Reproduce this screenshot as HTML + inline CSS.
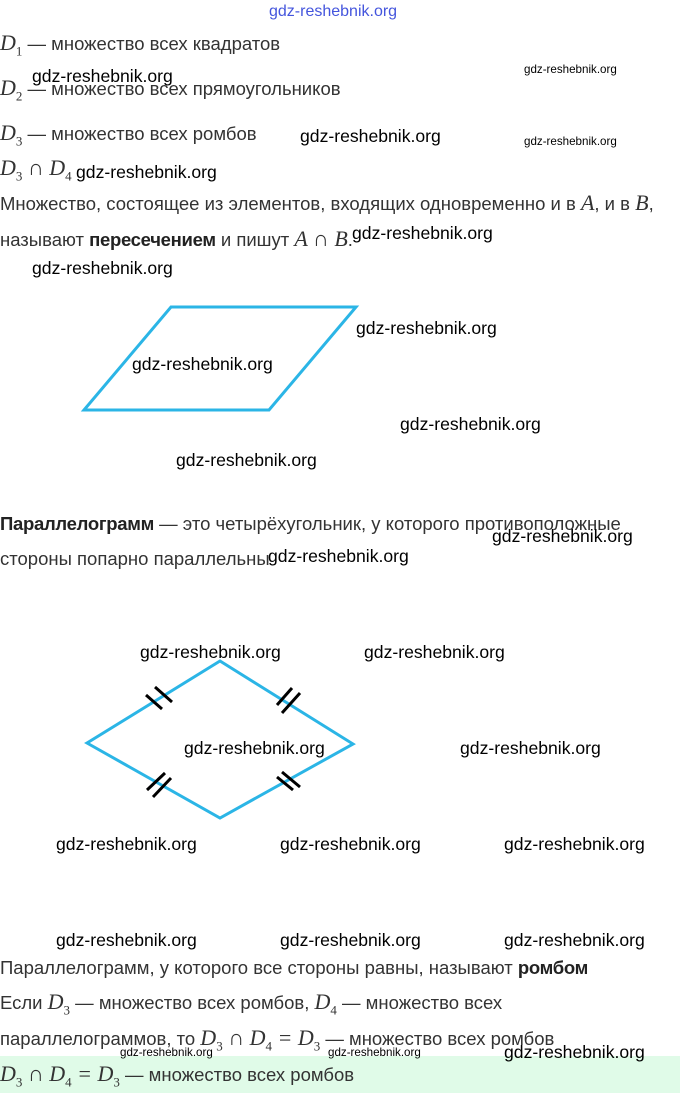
<!DOCTYPE html>
<html><head><meta charset="utf-8"><style>
body{margin:0;width:680px;height:1093px;background:#fff;position:relative;overflow:hidden;font-family:"Liberation Sans",sans-serif;color:#333}
.t{position:absolute;font-size:18.5px;white-space:nowrap;line-height:20px}
.m{font-family:"Liberation Serif",serif;font-style:italic;font-size:22px}
.w{position:absolute;font-family:"Liberation Sans",sans-serif;color:#000;font-size:17.6px;white-space:nowrap;line-height:20px}
.s{font-size:11.6px}
b{color:#222;letter-spacing:-0.3px}
sub{font-size:13px;font-style:normal}
</style></head><body>
<div style="position:absolute;left:0;top:1056px;width:680px;height:37px;background:#e0fbe8"></div>
<div class="w" style="left:269px;top:2px;color:#4455dd;font-size:16px">gdz-reshebnik.org</div>
<div class="t" style="left:0;top:33px"><span class="m">D<sub>1</sub></span> — множество всех квадратов</div>
<div class="t" style="left:0;top:78px"><span class="m">D<sub>2</sub></span> — множество всех прямоугольников</div>
<div class="t" style="left:0;top:123px"><span class="m">D<sub>3</sub></span> — множество всех ромбов</div>
<div class="t" style="left:0;top:158px"><span class="m">D<sub>3</sub> ∩ D<sub>4</sub></span></div>
<div class="t" style="left:0;top:193px">Множество, состоящее из элементов, входящих одновременно и в <span class="m">A</span>, и в <span class="m">B</span>,</div>
<div class="t" style="left:0;top:229px">называют <b>пересечением</b> и пишут <span class="m">A ∩ B</span>.</div>
<div class="t" style="left:0;top:514px"><b>Параллелограмм</b> — это четырёхугольник, у которого противоположные</div>
<div class="t" style="left:0;top:549px">стороны попарно параллельны</div>
<div class="t" style="left:0;top:958px">Параллелограмм, у которого все стороны равны, называют <b>ромбом</b></div>
<div class="t" style="left:0;top:992px">Если <span class="m">D<sub>3</sub></span> — множество всех ромбов, <span class="m">D<sub>4</sub></span> — множество всех</div>
<div class="t" style="left:0;top:1028px">параллелограммов, то <span class="m">D<sub>3</sub> ∩ D<sub>4</sub> = D<sub>3</sub></span> — множество всех ромбов</div>
<div class="t" style="left:0;top:1064px"><span class="m">D<sub>3</sub> ∩ D<sub>4</sub> = D<sub>3</sub></span> — множество всех ромбов</div>
<svg width="680" height="1093" style="position:absolute;left:0;top:0">
<polygon points="84,410 171,307 356,307 269,410" fill="none" stroke="#2bb5e6" stroke-width="3"/>
<polygon points="87,743 220,661 353,744 220,818" fill="none" stroke="#2bb5e6" stroke-width="3"/>
<g stroke="#000" stroke-width="3">
<line x1="146" y1="695" x2="162" y2="709"/><line x1="155" y1="687" x2="172" y2="702"/>
<line x1="277" y1="705" x2="292" y2="688"/><line x1="282" y1="713" x2="300" y2="693"/>
<line x1="147" y1="790" x2="165" y2="773"/><line x1="153" y1="797" x2="171" y2="778"/>
<line x1="277" y1="777" x2="293" y2="790"/><line x1="282" y1="772" x2="300" y2="787"/>
</g></svg>
<div class="w" style="left:32px;top:66px">gdz-reshebnik.org</div>
<div class="w s" style="left:524px;top:60px">gdz-reshebnik.org</div>
<div class="w" style="left:300px;top:126px">gdz-reshebnik.org</div>
<div class="w s" style="left:524px;top:132px">gdz-reshebnik.org</div>
<div class="w" style="left:76px;top:162px">gdz-reshebnik.org</div>
<div class="w" style="left:352px;top:223px">gdz-reshebnik.org</div>
<div class="w" style="left:32px;top:258px">gdz-reshebnik.org</div>
<div class="w" style="left:356px;top:318px">gdz-reshebnik.org</div>
<div class="w" style="left:132px;top:354px">gdz-reshebnik.org</div>
<div class="w" style="left:400px;top:414px">gdz-reshebnik.org</div>
<div class="w" style="left:176px;top:450px">gdz-reshebnik.org</div>
<div class="w" style="left:492px;top:526px">gdz-reshebnik.org</div>
<div class="w" style="left:268px;top:546px">gdz-reshebnik.org</div>
<div class="w" style="left:140px;top:642px">gdz-reshebnik.org</div>
<div class="w" style="left:364px;top:642px">gdz-reshebnik.org</div>
<div class="w" style="left:184px;top:738px">gdz-reshebnik.org</div>
<div class="w" style="left:460px;top:738px">gdz-reshebnik.org</div>
<div class="w" style="left:56px;top:834px">gdz-reshebnik.org</div>
<div class="w" style="left:280px;top:834px">gdz-reshebnik.org</div>
<div class="w" style="left:504px;top:834px">gdz-reshebnik.org</div>
<div class="w" style="left:56px;top:930px">gdz-reshebnik.org</div>
<div class="w" style="left:280px;top:930px">gdz-reshebnik.org</div>
<div class="w" style="left:504px;top:930px">gdz-reshebnik.org</div>
<div class="w s" style="left:120px;top:1043px">gdz-reshebnik.org</div>
<div class="w s" style="left:328px;top:1043px">gdz-reshebnik.org</div>
<div class="w" style="left:504px;top:1042px">gdz-reshebnik.org</div>
</body></html>
